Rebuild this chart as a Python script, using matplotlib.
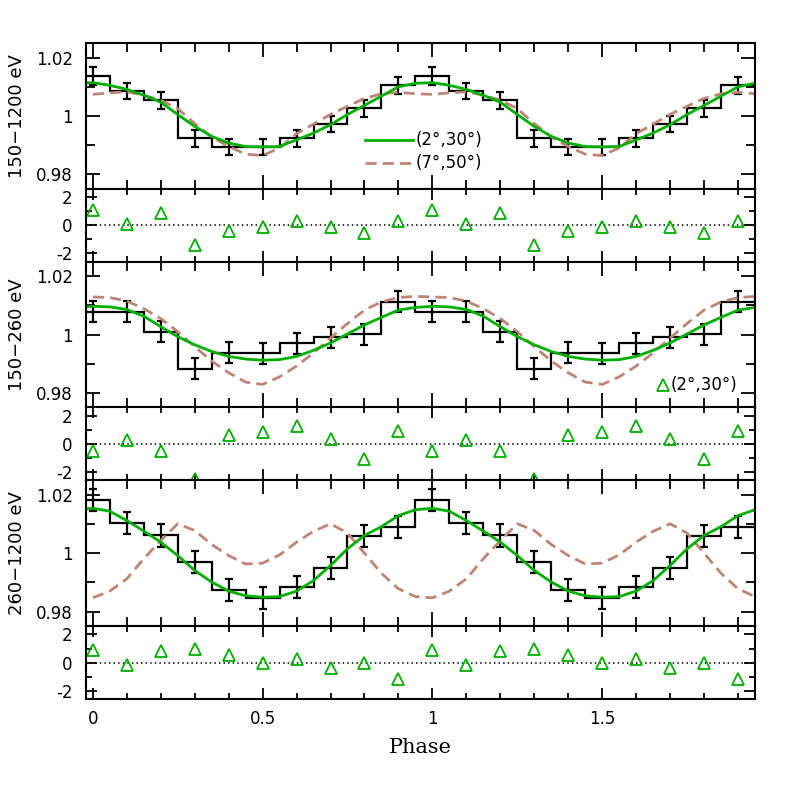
import numpy as np
import matplotlib
matplotlib.use("Agg")
import matplotlib.pyplot as plt
from matplotlib.ticker import MultipleLocator, FormatStrFormatter

# ---------------- data (one rotation period, repeated twice) ----------------
bin_phase = np.round(np.arange(0.0, 1.0, 0.1), 2)      # bin centres
model_phase = np.round(np.arange(0.0, 1.0, 0.05), 3)   # model sampling

band_labels = ["150\u22121200 eV", "150\u2212260 eV", "260\u22121200 eV"]

hist_150_1200 = [1.0136, 1.0085, 1.0053, 0.9923, 0.9894, 0.9894, 0.9923, 0.9972, 1.0026, 1.0105]
err_150_1200 = [0.0031, 0.0028, 0.0028, 0.0028, 0.0028, 0.0028, 0.0028, 0.0028, 0.0029, 0.0029]
g_150_1200 = [1.0114, 1.0105, 1.0091, 1.0071, 1.0047, 1.0005, 0.9964, 0.9930, 0.9907, 0.9895,
              0.9894, 0.9895, 0.9918, 0.9941, 0.9970, 1.0005, 1.0036, 1.0068, 1.0100, 1.0112]
b_150_1200 = [1.0074, 1.0079, 1.0083, 1.0071, 1.0054, 1.0025, 0.9974, 0.9928, 0.9895, 0.9869,
              0.9864, 0.9890, 0.9939, 0.9972, 1.0005, 1.0033, 1.0060, 1.0076, 1.0081, 1.0076]
res_150_1200 = [1.10, 0.10, 0.86, -1.38, -0.40, -0.10, 0.33, -0.14, -0.58, 0.33]

hist_150_260 = [1.0078, 1.0079, 1.0010, 0.9883, 0.9937, 0.9936, 0.9971, 0.9991, 1.0001, 1.0112]
err_150_260 = [0.0036, 0.0036, 0.0036, 0.0036, 0.0036, 0.0036, 0.0036, 0.0036, 0.0036, 0.0036]
g_150_260 = [1.0097, 1.0095, 1.0086, 1.0063, 1.0027, 0.9993, 0.9965, 0.9942, 0.9925, 0.9916,
             0.9912, 0.9914, 0.9925, 0.9946, 0.9971, 1.0002, 1.0033, 1.0059, 1.0084, 1.0093]
b_150_260 = [1.0129, 1.0127, 1.0115, 1.0089, 1.0055, 1.0010, 0.9959, 0.9909, 0.9869, 0.9837,
             0.9829, 0.9855, 0.9892, 0.9937, 0.9988, 1.0038, 1.0084, 1.0112, 1.0127, 1.0131]
res_150_260 = [-0.48, 0.29, -0.48, -2.50, 0.60, 0.82, 1.25, 0.36, -1.06, 0.92]

hist_260_1200 = [1.0183, 1.0105, 1.0061, 0.9969, 0.9875, 0.9847, 0.9883, 0.9949, 1.0058, 1.0091]
err_260_1200 = [0.0038, 0.0038, 0.0038, 0.0038, 0.0038, 0.0038, 0.0038, 0.0038, 0.0038, 0.0038]
g_260_1200 = [1.0154, 1.0144, 1.0112, 1.0076, 1.0038, 0.9992, 0.9941, 0.9901, 0.9870, 0.9854,
              0.9849, 0.9851, 0.9870, 0.9906, 0.9958, 1.0015, 1.0061, 1.0091, 1.0129, 1.0149]
b_260_1200 = [0.9847, 0.9870, 0.9912, 0.9981, 1.0043, 1.0101, 1.0078, 1.0030, 0.9992, 0.9963,
              0.9966, 0.9994, 1.0038, 1.0075, 1.0101, 1.0069, 1.0000, 0.9931, 0.9878, 0.9851]
res_260_1200 = [0.90, -0.16, 0.79, 0.98, 0.53, -0.02, 0.26, -0.37, -0.02, -1.16]

bands = [
    (hist_150_1200, err_150_1200, g_150_1200, b_150_1200, res_150_1200),
    (hist_150_260, err_150_260, g_150_260, b_150_260, res_150_260),
    (hist_260_1200, err_260_1200, g_260_1200, b_260_1200, res_260_1200),
]

GREEN = "#00b000"
BROWN = "#bf8574"

# ---------------- figure ----------------
plt.rcParams["font.family"] = ["DejaVu Sans"]
fig = plt.figure(figsize=(7.97, 7.97), dpi=100)
gs = fig.add_gridspec(6, 1, height_ratios=[2, 1, 2, 1, 2, 1],
                      left=0.1079, right=0.9473, top=0.946, bottom=0.123, hspace=0)

edges = np.linspace(-0.05, 1.95, 21)
ph2 = np.concatenate([bin_phase, bin_phase + 1.0])
mph = np.concatenate([[-0.05], model_phase, model_phase + 1.0, [1.95]])


def style(ax, main):
    ax.set_xlim(-0.02, 1.95)
    ax.xaxis.set_major_locator(MultipleLocator(0.5))
    ax.xaxis.set_minor_locator(MultipleLocator(0.1))
    ax.xaxis.set_major_formatter(FormatStrFormatter("%g"))
    ax.yaxis.set_major_formatter(FormatStrFormatter("%g"))
    if main:
        ax.yaxis.set_major_locator(MultipleLocator(0.02))
        ax.yaxis.set_minor_locator(MultipleLocator(0.01))
        ml, mn = 10, 6.5
    else:
        ax.yaxis.set_major_locator(MultipleLocator(2))
        ax.yaxis.set_minor_locator(MultipleLocator(1))
        ml, mn = 8, 4.5
    ax.tick_params(which="both", direction="in", top=True, right=True,
                   width=1.3, labelsize=12)
    ax.tick_params(axis="y", pad=9.5)
    ax.tick_params(axis="x", pad=8)
    ax.tick_params(which="major", length=ml)
    ax.tick_params(which="minor", length=mn)
    for s in ax.spines.values():
        s.set_linewidth(1.5)


axes = []
for i, (hist, err, gm, bm, res) in enumerate(bands):
    ax = fig.add_subplot(gs[2 * i])
    axr = fig.add_subplot(gs[2 * i + 1], sharex=ax)
    axes += [ax, axr]

    ax.stairs(np.tile(hist, 2), edges, color="black", lw=1.6, baseline=None)
    ax.errorbar(ph2, np.tile(hist, 2), yerr=np.tile(err, 2), fmt="none",
                ecolor="black", elinewidth=1.6, capsize=2.6, capthick=1.6)
    gv = np.concatenate([[gm[-1]], np.tile(gm, 2), [gm[-1]]])
    bv = np.concatenate([[bm[-1]], np.tile(bm, 2), [bm[-1]]])
    ax.plot(mph, bv, color=BROWN, lw=2.0, ls=(0, (4, 2.2)))
    ax.plot(mph, gv, color=GREEN, lw=2.0)
    ax.set_ylim(0.975, 1.025)
    style(ax, True)
    ax.set_ylabel(band_labels[i], fontsize=13)
    ax.yaxis.set_label_coords(-0.09, 0.5)
    ax.tick_params(labelbottom=False)

    axr.axhline(0, color="black", lw=1.1, ls=(0, (1, 2)))
    axr.plot(ph2, np.tile(res, 2), ls="none", marker="^", ms=9,
             mfc="none", mec=GREEN, mew=1.3)
    axr.set_ylim(-2.6, 2.6)
    style(axr, False)
    if i < 2:
        axr.tick_params(labelbottom=False)

# legends
ax0 = axes[0]
ax0.plot([0.417, 0.489], [0.336, 0.336], transform=ax0.transAxes, color=GREEN, lw=2.0)
ax0.text(0.492, 0.336, "(2\u00b0,30\u00b0)", transform=ax0.transAxes, va="center",
         ha="left", fontsize=12)
ax0.plot([0.417, 0.489], [0.178, 0.178], transform=ax0.transAxes, color=BROWN, lw=2.0,
         ls=(0, (4, 2.2)))
ax0.text(0.492, 0.178, "(7\u00b0,50\u00b0)", transform=ax0.transAxes, va="center",
         ha="left", fontsize=12)

ax2 = axes[2]
ax2.plot([0.862], [0.152], transform=ax2.transAxes, ls="none", marker="^", ms=9,
         mfc="none", mec=GREEN, mew=1.3)
ax2.text(0.874, 0.152, "(2\u00b0,30\u00b0)", transform=ax2.transAxes, va="center",
         ha="left", fontsize=12)

axes[-1].set_xlabel("Phase", fontsize=15, family="DejaVu Serif", labelpad=7)

fig.savefig("out.png", dpi=100)
